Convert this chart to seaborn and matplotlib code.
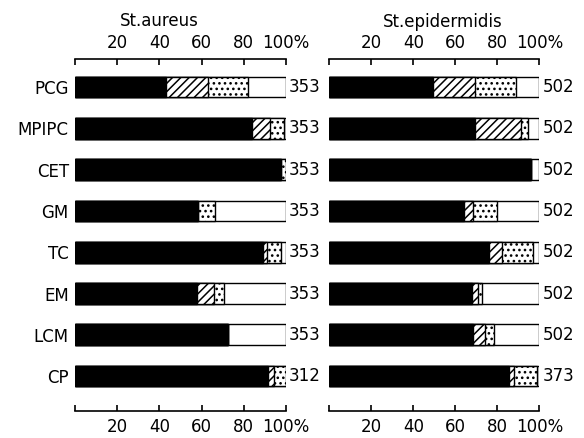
import matplotlib
matplotlib.use("Agg")
import matplotlib.pyplot as plt
import seaborn as sns
import numpy as np
import pandas as pd

categories = ['PCG', 'MPIPC', 'CET', 'GM', 'TC', 'EM', 'LCM', 'CP']

aureus_black = [43, 84, 97.5, 58.5, 89, 58, 72.5, 91.5]
aureus_hatch = [20, 8.5, 0, 0, 2, 8, 0, 3]
aureus_dots = [19, 6.5, 2.5, 8, 6.5, 4.5, 0, 5.5]
aureus_n = ['353', '353', '353', '353', '353', '353', '353', '312']

epid_black = [49.5, 69.5, 96, 64, 76, 68, 68.5, 85.5]
epid_hatch = [20, 22, 0, 4.5, 6, 3, 5.5, 2.5]
epid_dots = [19.5, 3, 0, 11.5, 15, 1.5, 4.5, 11]
epid_n = ['502', '502', '502', '502', '502', '502', '502', '373']

tick_vals = [0, 20, 40, 60, 80, 100]
tick_labels = ['', '20', '40', '60', '80', '100%']
titles = ['St.aureus', 'St.epidermidis']

sns.set_style('white')
plt.rcParams['font.family'] = ['DejaVu Sans']
plt.rcParams['hatch.linewidth'] = 1.1
plt.rcParams['hatch.color'] = 'black'
for k in ['text.color', 'axes.labelcolor', 'xtick.color', 'ytick.color',
          'axes.edgecolor']:
    plt.rcParams[k] = 'black'

fig = plt.figure(figsize=(5.84, 4.38), dpi=100)
W, H = 584, 438
ax1 = fig.add_axes([75 / W, 27 / H, 211 / W, 352 / H])
ax2 = fig.add_axes([329.3 / W, 27 / H, 210 / W, 352 / H])


def panel(ax, black, hatch, dots, counts, show_labels):
    b = np.array(black, float)
    h = np.array(hatch, float)
    d = np.array(dots, float)
    df = pd.DataFrame({'cat': categories,
                       'total': 100.0,
                       'bhd': b + h + d,
                       'bh': b + h,
                       'b': b})
    kw = dict(y='cat', orient='h', errorbar=None, width=0.5,
              edgecolor='black', linewidth=1.0, ax=ax)
    sns.barplot(data=df, x='total', color='white', saturation=1, **kw)
    sns.barplot(data=df, x='bhd', color='white', saturation=1, hatch='...', **kw)
    sns.barplot(data=df, x='bh', color='white', saturation=1, hatch='////', **kw)
    sns.barplot(data=df, x='b', color='black', saturation=1, **kw)
    ax.set_xlim(0, 100)
    ax.set_ylim(7.845, -0.678)
    ax.set_xlabel('')
    ax.set_ylabel('')
    for s in ['left', 'right', 'top']:
        ax.spines[s].set_visible(False)
    ax.spines['bottom'].set_linewidth(1.2)
    ax.set_xticks(tick_vals)
    ax.set_xticklabels(tick_labels, fontsize=12)
    ax.tick_params(axis='x', bottom=True, direction='in', length=4,
                   width=1.2, pad=5, colors='black')
    sec = ax.secondary_xaxis('top')
    sec.set_xticks(tick_vals)
    sec.set_xticklabels(tick_labels, fontsize=12)
    sec.tick_params(axis='x', direction='in', length=4, width=1.2, pad=5,
                    colors='black')
    sec.spines['top'].set_linewidth(1.2)
    if show_labels:
        ax.tick_params(axis='y', left=False, pad=1, labelsize=12,
                       colors='black')
    else:
        ax.set_yticklabels([])
        ax.tick_params(axis='y', left=False)
    for i, n in enumerate(counts):
        ax.text(101.5, i, n, va='center', ha='left', fontsize=12,
                color='black', clip_on=False)


panel(ax1, aureus_black, aureus_hatch, aureus_dots, aureus_n, True)
panel(ax2, epid_black, epid_hatch, epid_dots, epid_n, False)

fig.text(159 / W, 1 - 21 / H, titles[0], ha='center', va='center',
         fontsize=12, color='black')
fig.text(443 / W, 1 - 22 / H, titles[1], ha='center', va='center',
         fontsize=12, color='black')

fig.savefig('out.png', dpi=100, facecolor='white')
